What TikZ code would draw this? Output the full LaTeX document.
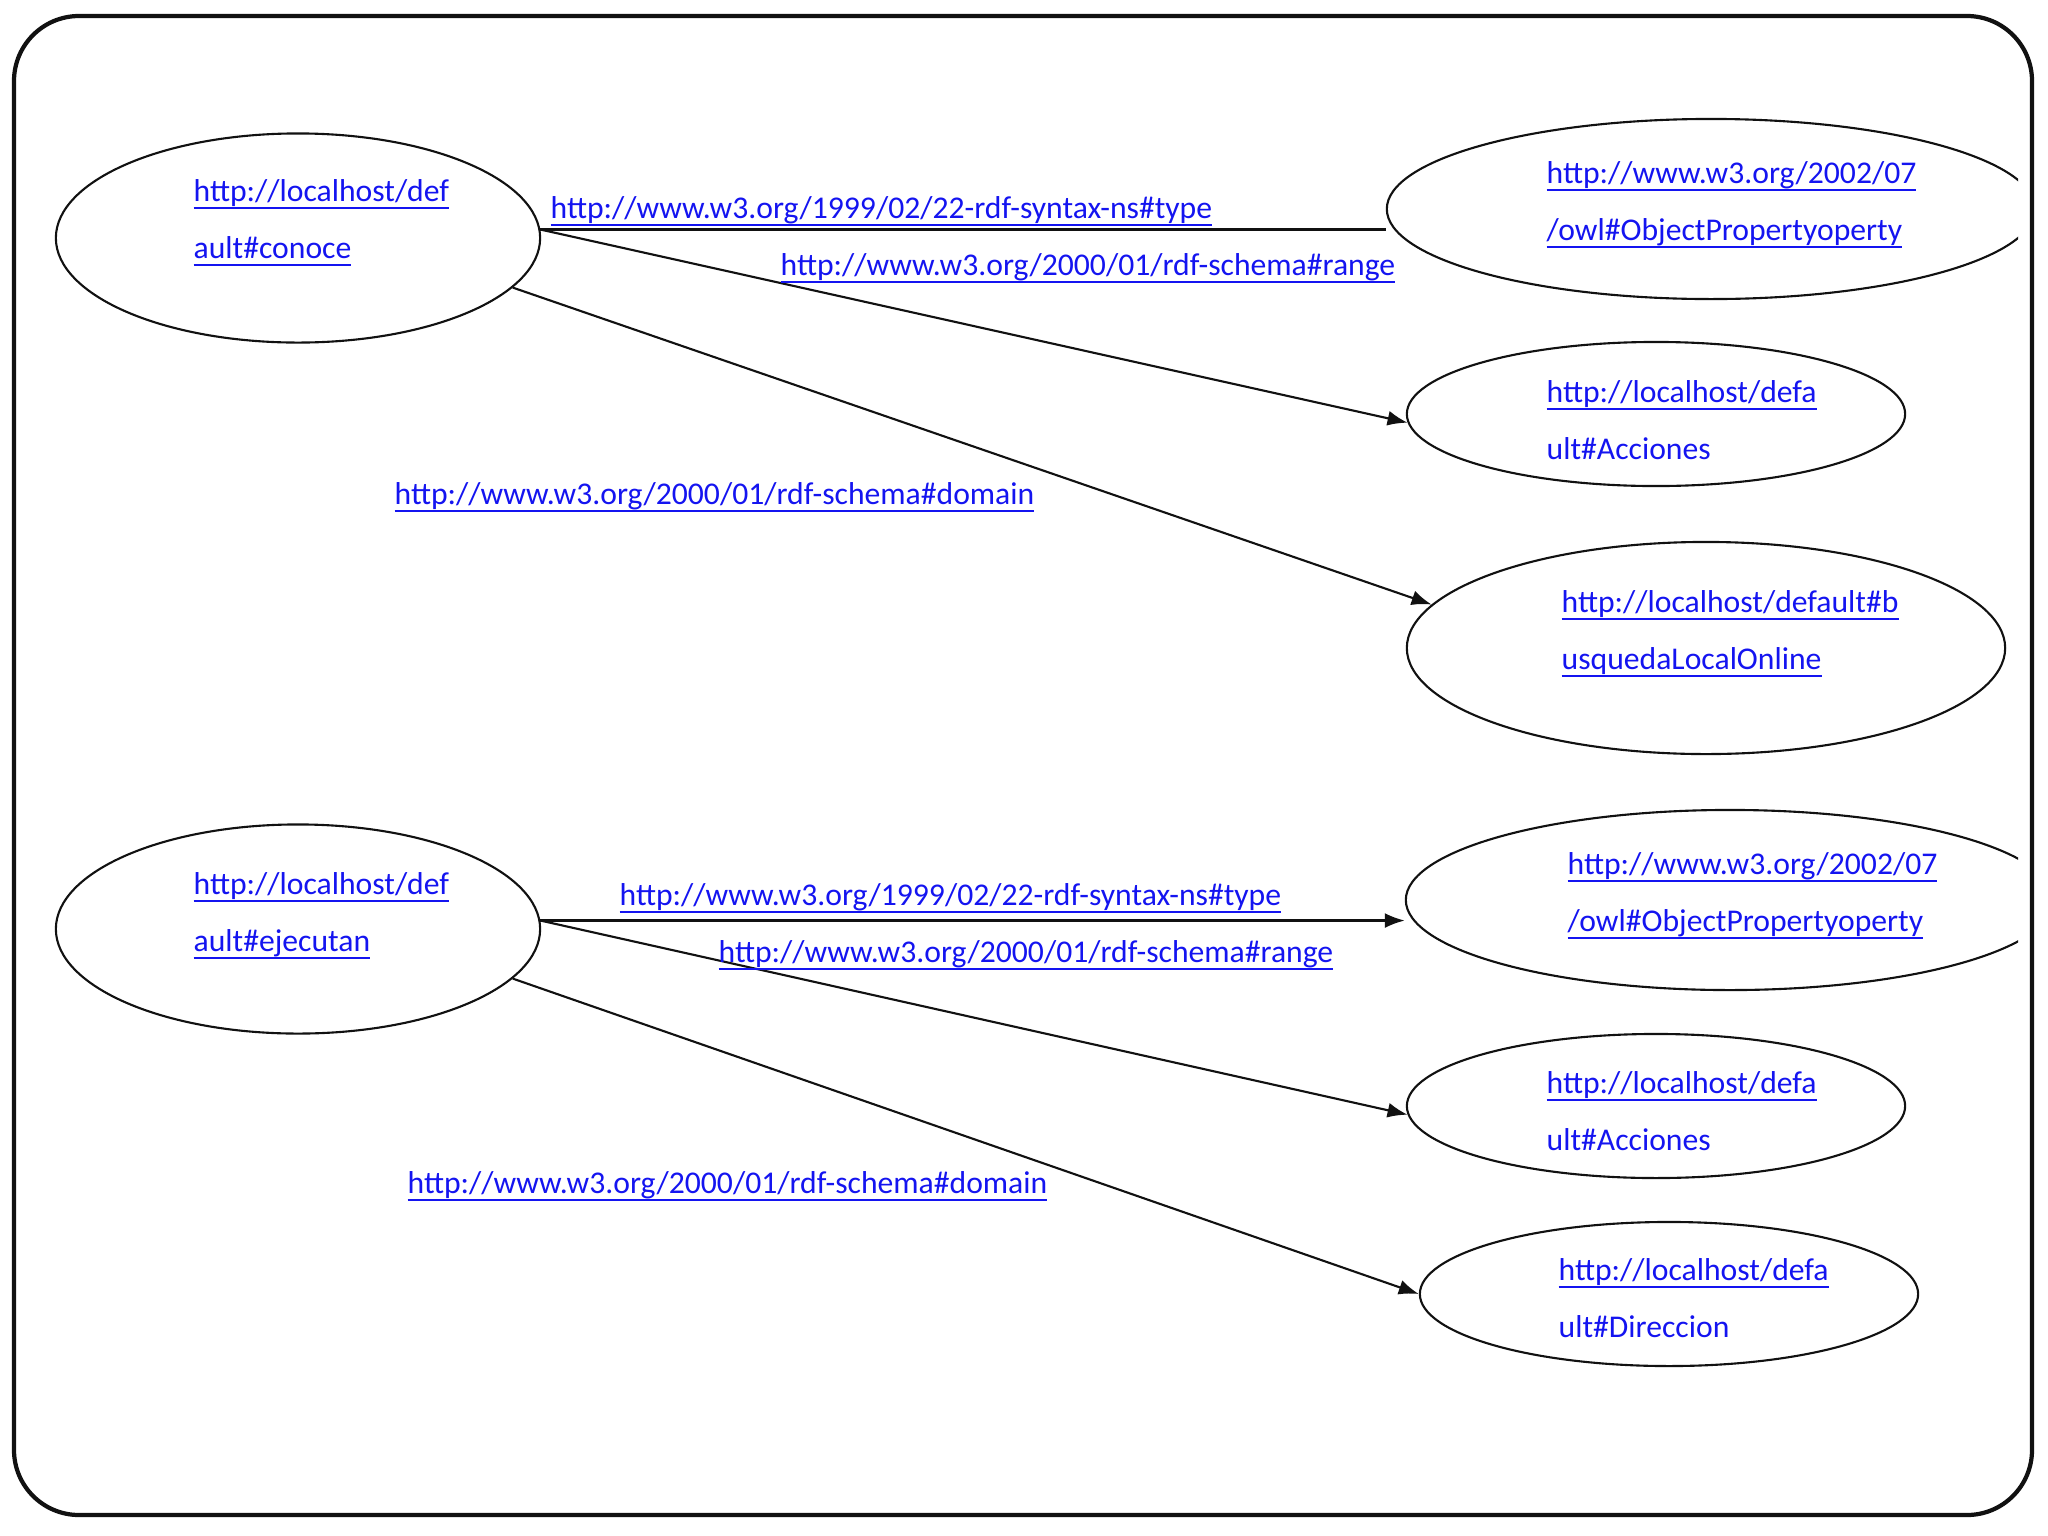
\documentclass[tikz,border=0pt]{standalone}
\usepackage{fontspec}
\setmainfont{Carlito}
\usetikzlibrary{arrows.meta,shapes.geometric}
\definecolor{link}{HTML}{1414F0}
\definecolor{ink}{HTML}{111111}
\newcommand{\lnk}[1]{\sbox0{#1}\rlap{\rule[-2.2pt]{\wd0}{0.55pt}}\usebox0}
\tikzset{
  >={Latex[length=2mm,width=1.5mm]},
  every node/.style={font=\fontsize{9pt}{16.2pt}\selectfont,text=link},
  res/.style={draw=ink,ellipse,line width=0.6pt,inner sep=0pt},
  uri/.style={anchor=west,align=left,inner sep=0pt},
  prop/.style={anchor=west,inner sep=0pt},
  arrow/.style={->,line width=0.6pt,draw=ink},
  plain/.style={line width=0.6pt,draw=ink},
  frame/.style={draw=ink,line width=1.2pt,rounded corners=6.5mm},
}

\begin{document}
\begin{tikzpicture}[x=0.01cm,y=-0.01cm]
\useasboundingbox (0,0) rectangle (2048,1536);
\draw[frame] (14,16) rectangle (2032,1515);

% resources
\node[res,minimum width=4.84cm,minimum height=2.09cm] (conoce) at (298,238) {};
\node[res,minimum width=4.84cm,minimum height=2.09cm] (ejecutan) at (298,929) {};
\begin{scope}
\clip (0,0) rectangle (2018,1536);
\node[res,minimum width=6.48cm,minimum height=1.80cm] (objtop) at (1711,209) {};
\node[res,minimum width=6.48cm,minimum height=1.80cm] (objbot) at (1730,900) {};
\end{scope}
\node[res,minimum width=4.98cm,minimum height=1.44cm] (acctop) at (1656,414) {};
\node[res,minimum width=5.98cm,minimum height=2.12cm] (busqueda) at (1706,648) {};
\node[res,minimum width=4.98cm,minimum height=1.44cm] (accbot) at (1656,1106) {};
\node[res,minimum width=4.98cm,minimum height=1.44cm] (direccion) at (1669,1294) {};

\node[uri] (conoce-t) at (193,223) {\lnk{http://localhost/def}\\\lnk{ault\#conoce}};
\node[uri] (ejecutan-t) at (193,916) {\lnk{http://localhost/def}\\\lnk{ault\#ejecutan}};
\node[uri] (objtop-t) at (1546,205) {\lnk{http://www.w3.org/2002/07}\\\lnk{/owl\#ObjectPropertyoperty}};
\node[uri] (objbot-t) at (1567,896) {\lnk{http://www.w3.org/2002/07}\\\lnk{/owl\#ObjectPropertyoperty}};
\node[uri] (acctop-t) at (1546,420) {\lnk{http://localhost/defa}\\ult\#Acciones};
\node[uri] (busqueda-t) at (1561,634) {\lnk{http://localhost/default\#b}\\\lnk{usquedaLocalOnline}};
\node[uri] (accbot-t) at (1546,1111) {\lnk{http://localhost/defa}\\ult\#Acciones};
\node[uri] (direccion-t) at (1558,1298) {\lnk{http://localhost/defa}\\ult\#Direccion};

% properties
\draw[plain] (conoce.2) -- (conoce.2 -| objtop.west);
\draw[arrow] (conoce.2) -- (acctop.182);
\draw[arrow] (conoce.-13) -- (busqueda.171);
\draw[arrow] (ejecutan.2) -- (ejecutan.2 -| objbot.west);
\draw[arrow] (ejecutan.2) -- (accbot.182);
\draw[arrow] (ejecutan.-13) -- (direccion.west);

\node[prop] (type1) at (550,211) {\lnk{http://www.w3.org/1999/02/22-rdf-syntax-ns\#type}};
\node[prop] (range1) at (780,268) {\lnk{http://www.w3.org/2000/01/rdf-schema\#range}};
\node[prop] (domain1) at (394,497) {\lnk{http://www.w3.org/2000/01/rdf-schema\#domain}};
\node[prop] (type2) at (619,898) {\lnk{http://www.w3.org/1999/02/22-rdf-syntax-ns\#type}};
\node[prop] (range2) at (718,955) {\lnk{http://www.w3.org/2000/01/rdf-schema\#range}};
\node[prop] (domain2) at (407,1186) {\lnk{http://www.w3.org/2000/01/rdf-schema\#domain}};

\end{tikzpicture}
\end{document}
